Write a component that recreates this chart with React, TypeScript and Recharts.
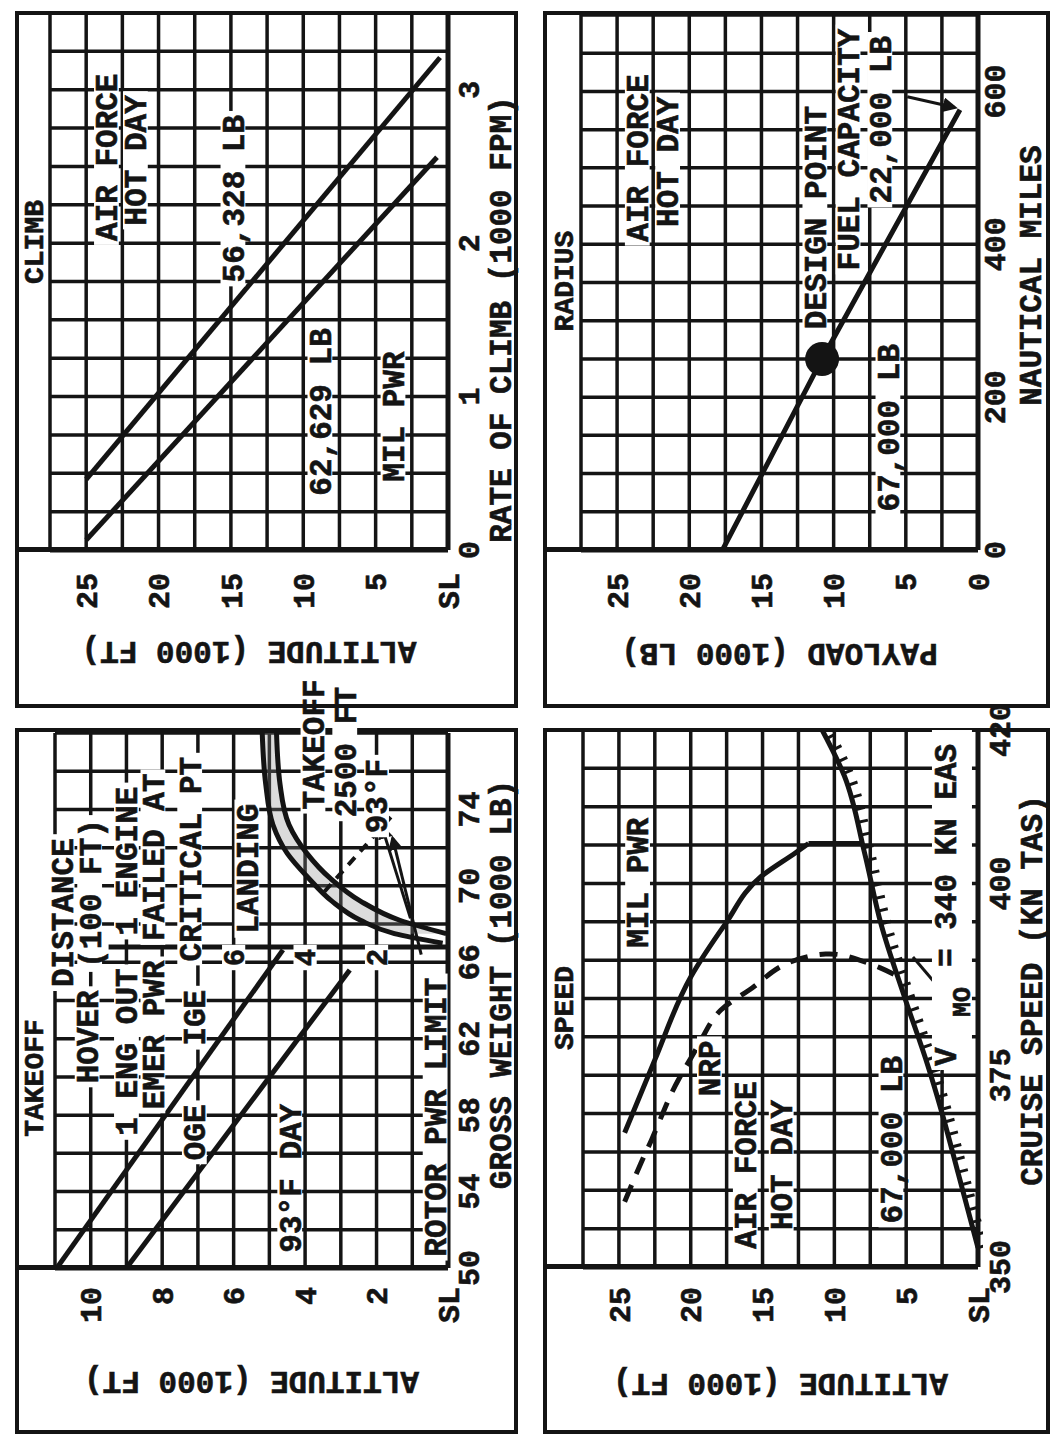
import React from 'react';
import { ComposedChart, Line, Area, XAxis, YAxis, CartesianGrid, ReferenceDot } from 'recharts';

const INK = '#141414';
const FONT = '"Liberation Mono", "DejaVu Sans Mono", monospace';

// ---------- TAKEOFF ----------
const toWeightGrid = [50, 52, 54, 56, 58, 60, 62, 64, 66, 68, 70, 72, 74, 76, 78];
const toWeightTicks = [50, 54, 58, 62, 66, 70, 74];
const toAltGrid = [0, 1, 2, 3, 4, 5, 6, 7, 8, 9, 10, 11];
const toAltTicks = [0, 2, 4, 6, 8, 10];

const igeWeight = [50, 66.65];
const igeAlt = [10.95, 4.62];
const ogeWeight = [50, 65.6];
const ogeAlt = [9.0, 2.75];

const landingWeight = [67.0, 67.5, 68.2, 69.2, 70.4, 71.7, 73.2, 75.3, 78];
const landingDist = [0.15, 1.5, 2.45, 3.25, 3.9, 4.5, 4.9, 5.1, 5.2];
const takeoffWeight = [67.5, 68.2, 69.2, 70.4, 71.7, 73.2, 75.3, 78];
const takeoffDist = [0.05, 1.35, 2.45, 3.3, 3.95, 4.45, 4.7, 4.8];

const distAxisWeight = [66.8, 66.8];
const distAxisDist = [0, 9.5];
const distTickValues = [2, 4, 6];
const distTickWeight = 66.25;

const leaderOneWeight = [68.3, 73.1];
const leaderOneDist = [1.05, 1.85];
const leaderTwoWeight = [66.4, 72.5];
const leaderTwoDist = [0.75, 1.55];
const leaderDashWeight = [73.6, 69.4];
const leaderDashDist = [1.6, 3.6];

const toNotes = [
  { gw: 62.1, alt: 10.1, text: 'HOVER' },
  { gw: 61.3, alt: 9.0, text: '1 ENG OUT' },
  { gw: 62.2, alt: 8.26, text: 'EMER PWR' },
  { gw: 57.1, alt: 7.1, text: 'OGE' },
  { gw: 63.1, alt: 7.1, text: 'IGE' },
  { gw: 54.7, alt: 4.43, text: '93°F DAY' },
  { gw: 57.9, alt: 0.36, text: 'ROTOR PWR LIMIT' },
  { gw: 68.6, alt: 10.8, text: 'DISTANCE' },
  { gw: 69.6, alt: 10.03, text: '(100 FT)' },
  { gw: 71.3, alt: 9.0, text: '1 ENGINE' },
  { gw: 71.5, alt: 8.26, text: 'FAILED AT' },
  { gw: 71.4, alt: 7.23, text: 'CRITICAL PT' },
  { gw: 70.9, alt: 5.63, text: 'LANDING' },
  { gw: 77.4, alt: 3.78, text: 'TAKEOFF' },
  { gw: 77.0, alt: 2.89, text: '2500 FT' },
  { gw: 74.7, alt: 2.0, text: '93°F' },
];

// ---------- CLIMB ----------
const rateGrid = [0, 0.25, 0.5, 0.75, 1, 1.25, 1.5, 1.75, 2, 2.25, 2.5, 2.75, 3, 3.25, 3.5];
const rateTicks = [0, 1, 2, 3];
const altGrid = [0, 2.5, 5, 7.5, 10, 12.5, 15, 17.5, 20, 22.5, 25, 27.5];
const altTicks = [0, 5, 10, 15, 20, 25];

const climb56Rate = [0.46, 3.21];
const climb56Alt = [25, 0.55];
const climb62Rate = [0.065, 2.56];
const climb62Alt = [25, 0.76];

const climbNotes = [
  { rate: 2.56, alt: 23.6, text: 'AIR FORCE' },
  { rate: 2.54, alt: 21.6, text: 'HOT DAY' },
  { rate: 2.29, alt: 14.86, text: '56,328 LB' },
  { rate: 0.9, alt: 8.85, text: '62,629 LB' },
  { rate: 0.87, alt: 3.8, text: 'MIL PWR' },
];

// ---------- SPEED ----------
const speedGrid = [350, 355, 360, 365, 370, 375, 380, 385, 390, 395, 400, 405, 410, 415, 420];
const speedTicks = [350, 375, 400, 420];

const milKts = [367.5, 377, 387.8, 394.7, 400.9, 404, 405.2];
const milAlt = [24.6, 22.5, 20.0, 17.6, 15.1, 12.7, 11.8];
const milDropKts = [405.2, 405.2];
const milDropAlt = [11.8, 8.0];
const nrpKts = [358.5, 363.4, 366.7, 370.7, 374.6, 379.5, 383.5, 386.4, 389.3, 390.8, 390.1, 389.0, 388.0];
const nrpAlt = [24.6, 23.5, 22.7, 21.8, 20.8, 19.3, 17.9, 15.7, 13.6, 10.6, 8.4, 6.8, 5.7];
const vmoKts = [352.5, 362, 370.7, 376.3, 385.1, 394.7, 404, 414, 420];
const vmoAlt = [0, 1.35, 2.6, 3.5, 5.1, 6.75, 7.9, 9.3, 10.85];
const vmoPointerKts = [385.2, 390.4];
const vmoPointerAlt = [2.16, 4.53];
const vmoLabel = { kts: 376.2, alt: 2.3 };

const speedNotes = [
  { kts: 400.1, alt: 23.7, text: 'MIL PWR' },
  { kts: 375.9, alt: 18.7, text: 'NRP' },
  { kts: 363.3, alt: 16.2, text: 'AIR FORCE' },
  { kts: 363.3, alt: 13.7, text: 'HOT DAY' },
  { kts: 366.6, alt: 6.06, text: '67,000 LB' },
];

// ---------- RADIUS ----------
const nmGrid = [0, 50, 100, 150, 200, 250, 300, 350, 400, 450, 500, 550, 600, 650, 700];
const nmTicks = [0, 200, 400, 600];
const payloadNm = [0, 250, 576];
const payloadLb = [17.7, 10.8, 1.25];
const designNm = 250;
const designLb = 10.8;
const fuelArrowNm = [593, 579];
const fuelArrowLb = [4.9, 1.6];

const radiusNotes = [
  { nm: 513, lb: 23.6, text: 'AIR FORCE' },
  { nm: 508, lb: 21.5, text: 'HOT DAY' },
  { nm: 435, lb: 11.3, text: 'DESIGN POINT' },
  { nm: 524, lb: 9.0, text: 'FUEL CAPACITY' },
  { nm: 563, lb: 6.8, text: '22,000 LB' },
  { nm: 160, lb: 6.24, text: '67,000 LB' },
];

// ---------- layout ----------
const BOX_TO = { x: 4, y: 15, w: 706, h: 503 };
const PLOT_TO = { l: 170, t: 55, r: 705, b: 448 };
const BOX_CL = { x: 730, y: 15, w: 697, h: 503 };
const PLOT_CL = { l: 888, t: 50, r: 1425, b: 448 };
const BOX_SP = { x: 4, y: 543, w: 706, h: 507 };
const PLOT_SP = { l: 171, t: 583, r: 708, b: 978 };
const BOX_RA = { x: 730, y: 543, w: 697, h: 507 };
const PLOT_RA = { l: 888, t: 581, r: 1423, b: 978 };

type Box = { x: number; y: number; w: number; h: number };
type Plot = { l: number; t: number; r: number; b: number };

const pairs = (xs: number[], ys: number[], xk: string, yk: string) =>
  xs.map((x, i) => ({ [xk]: x, [yk]: ys[i] }));

const only = (labels: number[], zero?: string) => (v: number) =>
  labels.includes(v) ? (v === 0 && zero ? zero : String(v)) : '';

const tickStyle = { fontFamily: FONT, fontSize: 30, fontWeight: 700, fill: INK, stroke: INK, strokeWidth: 0.6 };
const textProps = { fontFamily: FONT, fontWeight: 700, fill: INK, stroke: INK, strokeWidth: 0.6 } as const;

const xTitle = (text: string, dx: number, dy: number) => (p: any) => {
  const vb = p.viewBox;
  return (
    <text x={vb.x + vb.width / 2 + dx} y={vb.y + dy} dy="0.35em" textAnchor="middle" fontSize={31} {...textProps}>
      {text}
    </text>
  );
};

const yTitle = (text: string, dx: number) => (p: any) => {
  const vb = p.viewBox;
  const x = vb.x + dx;
  const y = vb.y + vb.height / 2;
  return (
    <text x={x} y={y} dy="0.35em" transform={`rotate(-90 ${x} ${y})`} textAnchor="middle" fontSize={31} {...textProps}>
      {text}
    </text>
  );
};

function note(text: string, size = 31) {
  return (p: any) => {
    const w = text.length * size * 0.6 + 8;
    const h = size * 0.8;
    return (
      <g>
        <rect x={p.cx - w / 2} y={p.cy - h / 2} width={w} height={h} fill="#fff" />
        <text x={p.cx} y={p.cy} dy="0.35em" textAnchor="middle" fontSize={size} {...textProps}>
          {text}
        </text>
      </g>
    );
  };
}

const vmoShape = (p: any) => (
  <g>
    <rect x={p.cx - 4} y={p.cy - 13} width={340} height={40} fill="#fff" />
    <text x={p.cx} y={p.cy} dy="0.35em" fontSize={31} {...textProps}>V</text>
    <text x={p.cx + 49} y={p.cy + 16} dy="0.35em" fontSize={25} {...textProps}>MO</text>
    <text x={p.cx + 99} y={p.cy} dy="0.35em" fontSize={31} {...textProps}>= 340 KN EAS</text>
  </g>
);

const margins = (box: Box, plot: Plot) => ({
  top: plot.t - box.y,
  right: box.x + box.w - plot.r,
  left: 0,
  bottom: 0,
});

function Panel({ box, plot, title, titleAt, children }: {
  box: Box; plot: Plot; title: string; titleAt: [number, number]; children: React.ReactNode;
}) {
  return (
    <div style={{ position: 'absolute', left: box.x, top: box.y, width: box.w, height: box.h }}>
      <div style={{ position: 'absolute', inset: 0, border: `4px solid ${INK}`, boxSizing: 'border-box' }} />
      <div
        style={{
          position: 'absolute',
          left: plot.l - box.x - 2.5,
          top: 0,
          width: 5,
          height: plot.b - box.y,
          background: INK,
        }}
      />
      <div
        style={{
          position: 'absolute',
          left: titleAt[0],
          top: titleAt[1],
          transform: 'translate(-50%, -50%)',
          fontFamily: FONT,
          fontWeight: 700,
          fontSize: 28,
          color: INK,
          WebkitTextStroke: `0.6px ${INK}`,
          whiteSpace: 'nowrap',
        }}
      >
        {title}
      </div>
      <div style={{ position: 'absolute', left: 0, top: 0 }}>{children}</div>
    </div>
  );
}

const lineBase = { stroke: INK, dot: false, activeDot: false, isAnimationActive: false } as const;
const GRID_W = 3.5;

function TakeoffChart() {
  const band = takeoffWeight.map((gw, i) => ({ gw, band: [takeoffDist[i], landingDist[i + 1]] }));
  return (
    <ComposedChart width={BOX_TO.w} height={BOX_TO.h} margin={margins(BOX_TO, PLOT_TO)}>
      <CartesianGrid stroke={INK} strokeWidth={GRID_W} />
      <XAxis
        dataKey="gw" type="number" domain={[50, 78]} ticks={toWeightGrid} interval={0} allowDataOverflow
        tickFormatter={only(toWeightTicks)} tick={tickStyle} tickLine={false} tickSize={0} tickMargin={10}
        axisLine={{ stroke: INK, strokeWidth: 5 }} height={BOX_TO.y + BOX_TO.h - PLOT_TO.b}
        label={{ content: xTitle('GROSS WEIGHT (1000 LB)', 16, 52) }}
      />
      <YAxis
        dataKey="alt" type="number" domain={[0, 11]} ticks={toAltGrid} interval={0} allowDataOverflow
        tickFormatter={only(toAltTicks, 'SL')} tick={tickStyle} tickLine={false} tickSize={0} tickMargin={19}
        axisLine={{ stroke: INK, strokeWidth: 5 }} width={PLOT_TO.l - BOX_TO.x}
        label={{ content: yTitle('ALTITUDE (1000 FT)', 51) }}
      />
      <Area data={band} dataKey="band" type="monotone" stroke="none" fill="#8a8a8a" fillOpacity={0.3} isAnimationActive={false} />
      <Line {...lineBase} data={pairs(igeWeight, igeAlt, 'gw', 'alt')} dataKey="alt" type="linear" strokeWidth={5} />
      <Line {...lineBase} data={pairs(ogeWeight, ogeAlt, 'gw', 'alt')} dataKey="alt" type="linear" strokeWidth={5} />
      <Line {...lineBase} data={pairs(landingWeight, landingDist, 'gw', 'alt')} dataKey="alt" type="monotone" strokeWidth={5} />
      <Line {...lineBase} data={pairs(takeoffWeight, takeoffDist, 'gw', 'alt')} dataKey="alt" type="monotone" strokeWidth={5} />
      <Line {...lineBase} data={pairs(distAxisWeight, distAxisDist, 'gw', 'alt')} dataKey="alt" type="linear" strokeWidth={5} />
      <Line {...lineBase} data={pairs(leaderOneWeight, leaderOneDist, 'gw', 'alt')} dataKey="alt" type="linear" strokeWidth={3} markerEnd="url(#arrowHead)" />
      <Line {...lineBase} data={pairs(leaderTwoWeight, leaderTwoDist, 'gw', 'alt')} dataKey="alt" type="linear" strokeWidth={3} markerEnd="url(#arrowHead)" />
      <Line {...lineBase} data={pairs(leaderDashWeight, leaderDashDist, 'gw', 'alt')} dataKey="alt" type="linear" strokeWidth={4} strokeDasharray="10 8" />
      {distTickValues.map((d) => (
        <ReferenceDot key={`d${d}`} x={distTickWeight} y={d} r={0} ifOverflow="visible" shape={note(String(d), 29)} />
      ))}
      {toNotes.map((n) => (
        <ReferenceDot key={n.text} x={n.gw} y={n.alt} r={0} ifOverflow="visible" shape={note(n.text)} />
      ))}
    </ComposedChart>
  );
}

function ClimbChart() {
  return (
    <ComposedChart width={BOX_CL.w} height={BOX_CL.h} margin={margins(BOX_CL, PLOT_CL)}>
      <CartesianGrid stroke={INK} strokeWidth={GRID_W} />
      <XAxis
        dataKey="rate" type="number" domain={[0, 3.5]} ticks={rateGrid} interval={0} allowDataOverflow
        tickFormatter={only(rateTicks)} tick={tickStyle} tickLine={false} tickSize={0} tickMargin={10}
        axisLine={{ stroke: INK, strokeWidth: 5 }} height={BOX_CL.y + BOX_CL.h - PLOT_CL.b}
        label={{ content: xTitle('RATE OF CLIMB (1000 FPM)', -38, 52) }}
      />
      <YAxis
        dataKey="alt" type="number" domain={[0, 27.5]} ticks={altGrid} interval={0} allowDataOverflow
        tickFormatter={only(altTicks, 'SL')} tick={tickStyle} tickLine={false} tickSize={0} tickMargin={23}
        axisLine={{ stroke: INK, strokeWidth: 5 }} width={PLOT_CL.l - BOX_CL.x}
        label={{ content: yTitle('ALTITUDE (1000 FT)', 55) }}
      />
      <Line {...lineBase} data={pairs(climb56Rate, climb56Alt, 'rate', 'alt')} dataKey="alt" type="linear" strokeWidth={5} />
      <Line {...lineBase} data={pairs(climb62Rate, climb62Alt, 'rate', 'alt')} dataKey="alt" type="linear" strokeWidth={5} />
      {climbNotes.map((n) => (
        <ReferenceDot key={n.text} x={n.rate} y={n.alt} r={0} ifOverflow="visible" shape={note(n.text)} />
      ))}
    </ComposedChart>
  );
}

function SpeedChart() {
  return (
    <ComposedChart width={BOX_SP.w} height={BOX_SP.h} margin={margins(BOX_SP, PLOT_SP)}>
      <CartesianGrid stroke={INK} strokeWidth={GRID_W} />
      <XAxis
        dataKey="kts" type="number" domain={[350, 420]} ticks={speedGrid} interval={0} allowDataOverflow
        tickFormatter={only(speedTicks)} tick={tickStyle} tickLine={false} tickSize={0} tickMargin={11}
        axisLine={{ stroke: INK, strokeWidth: 5 }} height={BOX_SP.y + BOX_SP.h - PLOT_SP.b}
        label={{ content: xTitle('CRUISE SPEED (KN TAS)', 8, 53) }}
      />
      <YAxis
        dataKey="alt" type="number" domain={[0, 27.5]} ticks={altGrid} interval={0} allowDataOverflow
        tickFormatter={only(altTicks, 'SL')} tick={tickStyle} tickLine={false} tickSize={0} tickMargin={20}
        axisLine={{ stroke: INK, strokeWidth: 5 }} width={PLOT_SP.l - BOX_SP.x}
        label={{ content: yTitle('ALTITUDE (1000 FT)', 49) }}
      />
      <Line {...lineBase} data={pairs(milKts, milAlt, 'kts', 'alt')} dataKey="alt" type="monotone" strokeWidth={5} />
      <Line {...lineBase} data={pairs(milDropKts, milDropAlt, 'kts', 'alt')} dataKey="alt" type="linear" strokeWidth={5} />
      <Line {...lineBase} data={pairs(nrpKts, nrpAlt, 'kts', 'alt')} dataKey="alt" type="natural" strokeWidth={5} strokeDasharray="18 12" />
      <Line {...lineBase} data={pairs(vmoKts, vmoAlt, 'kts', 'alt')} dataKey="alt" type="monotone" strokeWidth={5} />
      <Line {...lineBase} className="vmo-hatch" data={pairs(vmoKts, vmoAlt, 'kts', 'alt')} dataKey="alt" type="monotone" strokeWidth={11} strokeDasharray="3 10" />
      <Line {...lineBase} data={pairs(vmoPointerKts, vmoPointerAlt, 'kts', 'alt')} dataKey="alt" type="linear" strokeWidth={3} />
      {speedNotes.map((n) => (
        <ReferenceDot key={n.text} x={n.kts} y={n.alt} r={0} ifOverflow="visible" shape={note(n.text)} />
      ))}
      <ReferenceDot x={vmoLabel.kts} y={vmoLabel.alt} r={0} ifOverflow="visible" shape={vmoShape} />
    </ComposedChart>
  );
}

function RadiusChart() {
  return (
    <ComposedChart width={BOX_RA.w} height={BOX_RA.h} margin={margins(BOX_RA, PLOT_RA)}>
      <CartesianGrid stroke={INK} strokeWidth={GRID_W} />
      <XAxis
        dataKey="nm" type="number" domain={[0, 700]} ticks={nmGrid} interval={0} allowDataOverflow
        tickFormatter={only(nmTicks)} tick={tickStyle} tickLine={false} tickSize={0} tickMargin={6}
        axisLine={{ stroke: INK, strokeWidth: 5 }} height={BOX_RA.y + BOX_RA.h - PLOT_RA.b}
        label={{ content: xTitle('NAUTICAL MILES', 7, 52) }}
      />
      <YAxis
        dataKey="lb" type="number" domain={[0, 27.5]} ticks={altGrid} interval={0} allowDataOverflow
        tickFormatter={only(altTicks)} tick={tickStyle} tickLine={false} tickSize={0} tickMargin={23}
        axisLine={{ stroke: INK, strokeWidth: 5 }} width={PLOT_RA.l - BOX_RA.x}
        label={{ content: yTitle('PAYLOAD (1000 LB)', 53) }}
      />
      <Line {...lineBase} data={pairs(payloadNm, payloadLb, 'nm', 'lb')} dataKey="lb" type="linear" strokeWidth={5} />
      <Line {...lineBase} data={pairs(fuelArrowNm, fuelArrowLb, 'nm', 'lb')} dataKey="lb" type="linear" strokeWidth={3} markerEnd="url(#arrowHead)" />
      {radiusNotes.map((n) => (
        <ReferenceDot key={n.text} x={n.nm} y={n.lb} r={0} ifOverflow="visible" shape={note(n.text)} />
      ))}
      <ReferenceDot x={designNm} y={designLb} r={17} fill={INK} stroke="none" ifOverflow="visible" />
    </ComposedChart>
  );
}

export default function App() {
  return (
    <>
      <style>{`
        html, body { margin: 0; overflow: hidden; background: #fff; }
        .recharts-surface { overflow: visible; }
        .vmo-hatch { transform: translate(0px, 5px); }
      `}</style>
      <svg width={0} height={0} style={{ position: 'absolute' }}>
        <defs>
          <marker id="arrowHead" viewBox="0 0 10 10" refX="8" refY="5" markerWidth="5" markerHeight="5" orient="auto">
            <path d="M0,0 L10,5 L0,10 z" fill={INK} />
          </marker>
        </defs>
      </svg>
      <div
        style={{
          position: 'absolute',
          left: 0,
          top: 0,
          width: 1438,
          height: 1058,
          background: '#fff',
          transformOrigin: '0 0',
          transform: 'translate(0px, 1438px) rotate(-90deg)',
        }}
      >
        <Panel box={BOX_TO} plot={PLOT_TO} title="TAKEOFF" titleAt={[356, 20]}>
          <TakeoffChart />
        </Panel>
        <Panel box={BOX_CL} plot={PLOT_CL} title="CLIMB" titleAt={[466, 20]}>
          <ClimbChart />
        </Panel>
        <Panel box={BOX_SP} plot={PLOT_SP} title="SPEED" titleAt={[426, 22]}>
          <SpeedChart />
        </Panel>
        <Panel box={BOX_RA} plot={PLOT_RA} title="RADIUS" titleAt={[427, 22]}>
          <RadiusChart />
        </Panel>
      </div>
    </>
  );
}
